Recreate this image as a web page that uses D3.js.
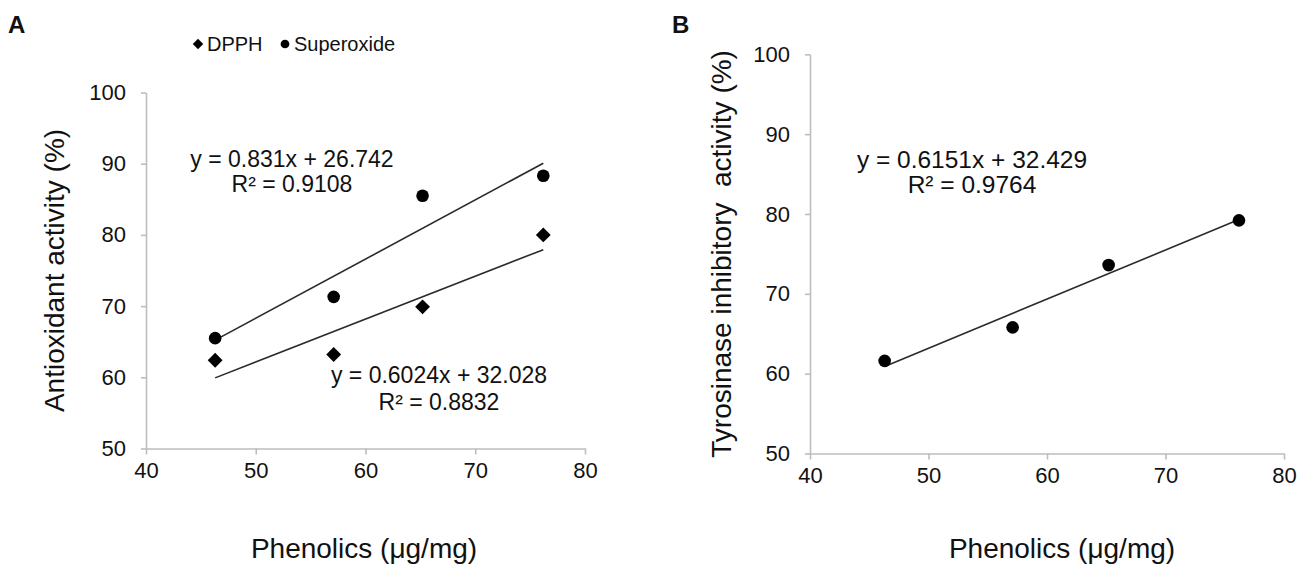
<!DOCTYPE html>
<html>

<head>
  <title>Phenolics correlation</title>
  <script src="https://cdn.jsdelivr.net/npm/d3@7/dist/d3.min.js"></script>
  <style>
    body { margin: 0; background: #fff; }
    text { font-family: "Liberation Sans", Arial, sans-serif; fill: #111; }
  </style>
</head>

<body>
  <svg width="1312" height="569" id="mainsvg"></svg>
  <script>
    // data
    const phenolics = [46.3, 57.1, 65.2, 76.2];
    const dpph = [62.4, 63.2, 69.9, 80.0];
    const superoxide = [65.5, 71.3, 85.5, 88.3];
    const tyrosinase = [61.6, 65.8, 73.6, 79.2];
    const xTicks = [40, 50, 60, 70, 80];
    const yTicks = [50, 60, 70, 80, 90, 100];
    // trendline coefficients as printed on the chart
    const fitSuperoxide = { slope: 0.831, intercept: 26.742, label: 'y = 0.831x + 26.742', r2: 'R² = 0.9108' };
    const fitDpph = { slope: 0.6024, intercept: 32.028, label: 'y = 0.6024x + 32.028', r2: 'R² = 0.8832' };
    const fitTyro = { slope: 0.6151, intercept: 32.429, label: 'y = 0.6151x + 32.429', r2: 'R² = 0.9764' };

    const svg = d3.select('#mainsvg');
    const axisColor = '#bdbdbd';

    const drawAxes = (x, y) => {
      const gx = svg.append('g')
        .attr('transform', `translate(0, ${y.range()[0]})`)
        .call(d3.axisBottom(x).tickValues(xTicks).tickSize(6).tickSizeOuter(0).tickPadding(8));
      const gy = svg.append('g')
        .attr('transform', `translate(${x.range()[0]}, 0)`)
        .call(d3.axisLeft(y).tickValues(yTicks).tickSize(5).tickSizeOuter(0).tickPadding(15));
      [gx, gy].forEach(g => {
        g.selectAll('path, line').attr('stroke', axisColor).attr('stroke-width', 1.6);
        g.selectAll('text').style('font-size', '22px').attr('fill', '#111');
      });
    };

    const drawFit = (x, y, fit) => {
      const ext = d3.extent(phenolics);
      svg.append('line')
        .attr('x1', x(ext[0])).attr('y1', y(fit.slope * ext[0] + fit.intercept))
        .attr('x2', x(ext[1])).attr('y2', y(fit.slope * ext[1] + fit.intercept))
        .attr('stroke', '#2a2a2a').attr('stroke-width', 1.6);
    };

    const drawEquation = (cx, top, fit, gap, size) => {
      const t = svg.append('g').attr('text-anchor', 'middle').style('font-size', size + 'px');
      t.append('text').attr('x', cx).attr('y', top).text(fit.label);
      t.append('text').attr('x', cx).attr('y', top + gap).text(fit.r2);
    };

    const circle = d3.symbol().type(d3.symbolCircle).size(125);
    // square turned 45 degrees, like the spreadsheet diamond marker
    const diamond = d3.symbol().type(d3.symbolSquare).size(110);

    // ---- panel A
    const xA = d3.scaleLinear().domain([40, 80]).range([146, 585]);
    const yA = d3.scaleLinear().domain([50, 100]).range([448.5, 92.5]);
    drawAxes(xA, yA);
    drawFit(xA, yA, fitSuperoxide);
    drawFit(xA, yA, fitDpph);

    svg.append('g').selectAll('path').data(phenolics).join('path')
      .attr('d', diamond)
      .attr('transform', (d, i) => `translate(${xA(d)}, ${yA(dpph[i])}) rotate(45)`)
      .attr('fill', '#000');
    svg.append('g').selectAll('path').data(phenolics).join('path')
      .attr('d', circle)
      .attr('transform', (d, i) => `translate(${xA(d)}, ${yA(superoxide[i])})`)
      .attr('fill', '#000');

    drawEquation(292, 167, fitSuperoxide, 25, 23);
    drawEquation(439, 383, fitDpph, 27, 23);

    svg.append('text').attr('x', 8).attr('y', 33)
      .style('font-size', '24px').style('font-weight', 'bold').text('A');

    // legend
    const legend = svg.append('g').style('font-size', '20px');
    legend.append('path').attr('d', d3.symbol().type(d3.symbolSquare).size(55))
      .attr('transform', 'translate(198, 44) rotate(45)').attr('fill', '#000');
    legend.append('text').attr('x', 207).attr('y', 51).text('DPPH');
    legend.append('path').attr('d', d3.symbol().type(d3.symbolCircle).size(60))
      .attr('transform', 'translate(285, 44)').attr('fill', '#000');
    legend.append('text').attr('x', 294).attr('y', 51).text('Superoxide');

    svg.append('text')
      .attr('transform', `translate(64, ${(yA.range()[0] + yA.range()[1]) / 2}) rotate(-90)`)
      .attr('text-anchor', 'middle').style('font-size', '28px')
      .text('Antioxidant activity (%)');
    svg.append('text')
      .attr('x', 364).attr('y', 558)
      .attr('text-anchor', 'middle').style('font-size', '28px')
      .text('Phenolics (μg/mg)');

    // ---- panel B
    const xB = d3.scaleLinear().domain([40, 80]).range([810, 1284]);
    const yB = d3.scaleLinear().domain([50, 100]).range([453.5, 54.3]);
    drawAxes(xB, yB);
    drawFit(xB, yB, fitTyro);
    svg.append('g').selectAll('path').data(phenolics).join('path')
      .attr('d', circle)
      .attr('transform', (d, i) => `translate(${xB(d)}, ${yB(tyrosinase[i])})`)
      .attr('fill', '#000');
    drawEquation(972, 168, fitTyro, 25, 24.5);

    svg.append('text').attr('x', 672).attr('y', 33)
      .style('font-size', '24px').style('font-weight', 'bold').text('B');

    svg.append('text')
      .attr('transform', `translate(731, ${(yB.range()[0] + yB.range()[1]) / 2}) rotate(-90)`)
      .attr('text-anchor', 'middle').style('font-size', '28px')
      .style('white-space', 'pre')
      .text('Tyrosinase inhibitory  activity (%)');
    svg.append('text')
      .attr('x', 1062).attr('y', 558)
      .attr('text-anchor', 'middle').style('font-size', '28px')
      .text('Phenolics (μg/mg)');
  </script>
</body>

</html>
